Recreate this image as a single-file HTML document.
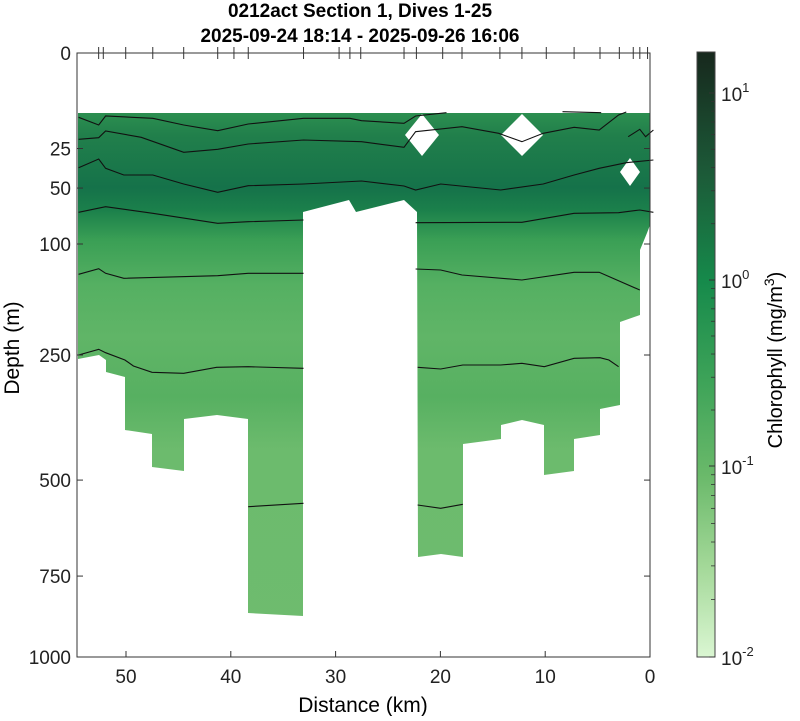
<!DOCTYPE html>
<html><head><style>
body{margin:0;background:#fff;}
svg text{font-family:"Liberation Sans",Arial,sans-serif;}
</style></head><body>
<svg id="s" width="800" height="716" xmlns="http://www.w3.org/2000/svg">
<defs>
<linearGradient id="fg" x1="0" y1="113" x2="0" y2="860" gradientUnits="userSpaceOnUse">
<stop offset="0" stop-color="#2c8f50"/>
<stop offset="0.03" stop-color="#217f4b"/>
<stop offset="0.1" stop-color="#15724a"/>
<stop offset="0.13" stop-color="#1b804b"/>
<stop offset="0.17" stop-color="#3a9f55"/>
<stop offset="0.23" stop-color="#55b062"/>
<stop offset="0.3" stop-color="#60b567"/>
<stop offset="0.38" stop-color="#57b061"/>
<stop offset="0.45" stop-color="#6cbb6d"/>
<stop offset="1" stop-color="#70bc6f"/>
</linearGradient>
<linearGradient id="cb" x1="0" y1="52" x2="0" y2="657" gradientUnits="userSpaceOnUse">
<stop offset="0" stop-color="#17281d"/>
<stop offset="0.2" stop-color="#1c5a38"/>
<stop offset="0.38" stop-color="#168a4b"/>
<stop offset="0.55" stop-color="#3fa459"/>
<stop offset="0.7" stop-color="#6ab96a"/>
<stop offset="0.85" stop-color="#a3d898"/>
<stop offset="1" stop-color="#daf6d2"/>
</linearGradient>
</defs>
<g id="plot"></g>
<text x="360" y="17" font-size="19" font-weight="bold" text-anchor="middle">0212act Section 1, Dives 1-25</text>
<text x="360" y="42" font-size="19" font-weight="bold" text-anchor="middle">2025-09-24 18:14 - 2025-09-26 16:06</text>
<text x="363" y="712" font-size="21" text-anchor="middle">Distance (km)</text>
<text transform="translate(19,348) rotate(-90)" font-size="21" text-anchor="middle">Depth (m)</text>
<text transform="translate(782,360) rotate(-90)" font-size="20" text-anchor="middle">Chlorophyll (mg/m<tspan dy="-8" font-size="14">3</tspan><tspan dy="8">)</tspan></text>
</svg>
<script>
var g=document.getElementById('plot'),NS='http://www.w3.org/2000/svg';
function el(t,a,p){var e=document.createElementNS(NS,t);for(var k in a)e.setAttribute(k,a[k]);(p||g).appendChild(e);return e;}
function Z1(a){var r=[];for(var i=0;i<a.length;i+=2)r.push((60+a[i]/2.587).toFixed(1)+','+(40+a[i+1]/3).toFixed(1));return r.join(' ');}
function Z3(a){var r=[];for(var i=0;i<a.length;i+=2)r.push((60+a[i]/2.587).toFixed(1)+','+(300+a[i+1]/3).toFixed(1));return r.join(' ');}
var poly="78,113 650,113 650,225 647,233 640,250 640,315 620,322 620,405 600,409 600,435 574,439 574,471 544,475 544,425 522,420 501,425 501,439 463,444 463,557 441,554 418,557 417,212 404,200 356,212 349,200 303,212 303,616 248,613 248,419 217,415 184,419 184,471 152,467 152,434 125,430 125,377 106,372 106,360 99,355 78,359";
el('polygon',{points:poly,fill:'url(#fg)'});
[[422,135,17,21],[522,135,21,21],[630,172,10,14]].forEach(function(d){el('polygon',{points:(d[0]-d[2])+','+d[1]+' '+d[0]+','+(d[1]-d[3])+' '+(d[0]+d[2])+','+d[1]+' '+d[0]+','+(d[1]+d[3]),fill:'#fff'});});
var L1=[
[48,232,100,255,118,228,240,235,320,255,408,272,487,252,630,235,750,235,780,242,890,250,920,228,1000,218],
[1300,215,1400,218],
[48,298,100,293,118,273,210,292,320,337,408,328,487,312,630,300,780,305,890,322,920,275,1040,260,1135,280,1195,305,1250,280,1330,262,1395,270,1445,225,1465,216],
[1470,290,1500,268,1515,290,1535,270],
[48,383,100,357,118,385,165,405,240,405,320,432,408,457,487,437,630,432,780,423,890,438,920,450,985,432,1140,450,1250,432,1330,405,1395,385,1465,368,1535,360],
[48,517,118,500,240,520,408,550,487,545,630,540],
[920,548,1195,547,1330,520,1445,518,1500,510,1535,517],
[48,703,100,686,118,700,165,715,408,707,487,700,630,700],
[920,687,985,690,1040,705,1195,720,1330,697,1395,697,1500,750]];
L1.forEach(function(a){el('polyline',{points:Z1(a),fill:'none',stroke:'#111','stroke-width':1.1});});
var L3=[[48,165,100,148,118,158,168,180,190,198,238,217,320,220,405,202,487,200,630,205],
[925,202,985,207,1042,195,1140,195,1195,190,1253,200,1330,175,1397,173,1420,180,1445,200],
[487,620,630,610],[925,615,985,625,1042,613]];
L3.forEach(function(a){el('polyline',{points:Z3(a),fill:'none',stroke:'#111','stroke-width':1.1});});
el('rect',{x:77,y:53,width:573,height:604,fill:'none',stroke:'#333','stroke-width':1});
function yd(d){return 53+19.1*Math.sqrt(d);}
[0,25,50,100,250,500,750,1000].forEach(function(d){var y=yd(d);
el('line',{x1:77,y1:y,x2:83,y2:y,stroke:'#333'});el('line',{x1:644,y1:y,x2:650,y2:y,stroke:'#333'});
var t=el('text',{x:71,y:y+7,'font-size':19,'text-anchor':'end',fill:'#222'});t.textContent=d;});
[0,10,20,30,40,50].forEach(function(k){var x=650-k*10.48;
el('line',{x1:x,y1:657,x2:x,y2:651,stroke:'#333'});
var t=el('text',{x:x,y:683,'font-size':19,'text-anchor':'middle',fill:'#222'});t.textContent=k;});
[100,112,170,240,320,408,450,487,630,722,750,778,890,922,990,1040,1138,1195,1258,1330,1397,1447,1483,1500,1520].forEach(function(z){var x=60+z/2.587;
el('line',{x1:x,y1:47,x2:x,y2:59,stroke:'#333'});});
el('rect',{x:697,y:52,width:18,height:605,fill:'url(#cb)',stroke:'#444','stroke-width':1});
var dec=[[1,93],[0,280],[-1,466],[-2,657]];
for(var i=0;i<3;i++){var y0=dec[i+1][1],y1=dec[i][1];for(var m=2;m<10;m++){var y=y0-(y0-y1)*Math.log10(m);el('line',{x1:711,y1:y,x2:715,y2:y,stroke:'#333','stroke-width':0.8});}}
dec.forEach(function(d){el('line',{x1:709,y1:d[1],x2:715,y2:d[1],stroke:'#333'});
var t=el('text',{x:721,y:d[1]+8,'font-size':19,fill:'#222'});t.textContent='10';
var s=el('tspan',{dy:-9,'font-size':13},t);s.textContent=d[0];});
</script>
</body></html>
